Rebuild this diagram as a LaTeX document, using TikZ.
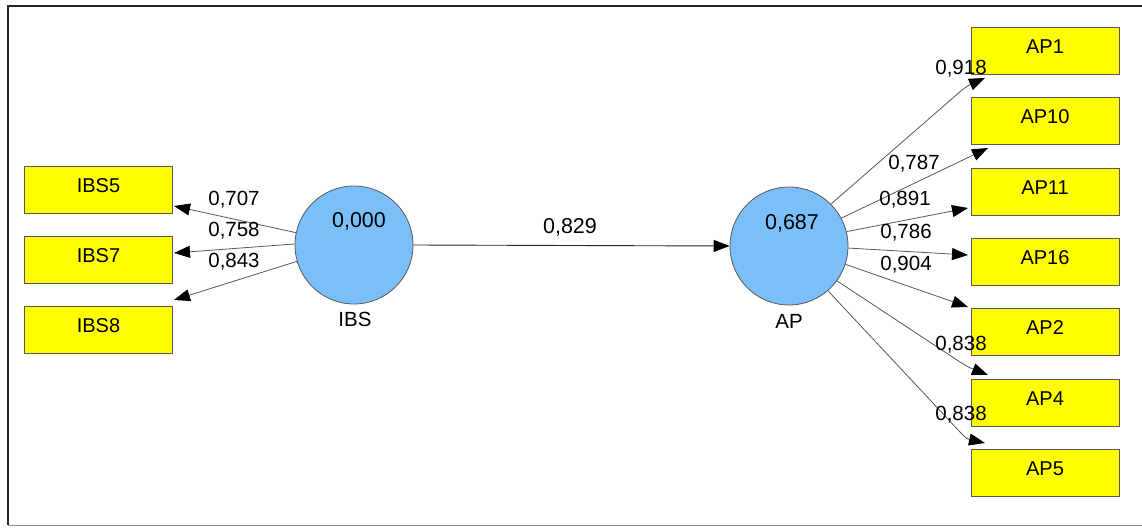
\documentclass[tikz,border=0pt]{standalone}
\usepackage{fontspec}
\setmainfont{Liberation Sans}
\usetikzlibrary{arrows.meta}
\definecolor{boxyellow}{RGB}{255,255,0}
\definecolor{latblue}{RGB}{122,190,250}
\definecolor{edgegray}{RGB}{88,88,88}
\definecolor{framegray}{RGB}{140,140,140}
\begin{document}
\begin{tikzpicture}[x=1pt,y=-1pt,
  ind/.style={draw=edgegray, fill=boxyellow, line width=0.8pt, minimum width=148pt, minimum height=47pt, inner sep=0pt, font=\fontsize{20}{24}\selectfont, text height=14pt, text depth=9pt},
  lat/.style={circle, draw=edgegray, fill=latblue, minimum size=118pt, inner sep=0pt, line width=0.8pt},
  lab/.style={font=\fontsize{20.5}{24}\selectfont, inner sep=0pt, text depth=0pt},
  val/.style={font=\fontsize{21.5}{24}\selectfont, inner sep=0pt, text depth=0pt},
  arr/.style={draw=edgegray, line width=0.8pt, -{Triangle[length=16pt,width=12pt,color=black]}},
  mainarr/.style={draw=black!85, line width=0.9pt, -{Triangle[length=16pt,width=12pt,color=black]}}]
\useasboundingbox (0,0) rectangle (1142,527);
% frame
\draw[line width=1.8pt, black!85] (8,525) -- (8,6) -- (1142,6);
\draw[line width=1pt, framegray] (8,525) -- (1142,525);
% latent variables
\node[lat] (IBS) at (354,245) {};
\node[lat] (AP) at (789,246) {};
% indicators left
\node[ind] (IBS5) at (98.5,190) {IBS5};
\node[ind] (IBS7) at (98.5,260) {IBS7};
\node[ind] (IBS8) at (98.5,330) {IBS8};
% indicators right
\node[ind] (AP1)  at (1045,51)    {AP1};
\node[ind] (AP10) at (1045,121.3) {AP10};
\node[ind] (AP11) at (1045,191.7) {AP11};
\node[ind] (AP16) at (1045,262)   {AP16};
\node[ind] (AP2)  at (1045,332.3) {AP2};
\node[ind] (AP4)  at (1045,402.7) {AP4};
\node[ind] (AP5)  at (1045,473)   {AP5};
% arrow end coordinates
\coordinate (e5) at (174,206);
\coordinate (e7) at (174,253);
\coordinate (e8) at (174,300);
\coordinate (b1) at (962,90);
\coordinate (e1) at (985,78);
\coordinate (e10) at (988,148);
\coordinate (e11) at (968,208);
\coordinate (e16) at (968,255);
\coordinate (e2) at (968,307);
\coordinate (b4) at (960,362);
\coordinate (e4) at (988,375);
\coordinate (b5) at (960,432);
\coordinate (e5r) at (985,443);
% connectors
\draw[arr] (IBS.168) -- (e5);
\draw[arr] (IBS.179) -- (e7);
\draw[arr] (IBS.196) -- (e8);
\draw[mainarr] (IBS.east) -- (AP.west);
\draw[arr] (AP.45) -- (b1) .. controls (969,85) .. (e1);
\draw[arr] (AP.28) -- (e10);
\draw[arr] (AP.14) -- (e11);
\draw[arr] (AP.-2) -- (e16);
\draw[arr] (AP.-18) -- (e2);
\draw[arr] (AP.-36) -- (b4) .. controls (970,368) .. (e4);
\draw[arr] (AP.-49) -- (b5) .. controls (967,439) .. (e5r);
% labels
\node[val] (vIBS) at (359,220) {0,000};
\node[val] (vAP) at (792,222) {0,687};
\node[lab] (nIBS) at (355,319) {IBS};
\node[lab] (nAP) at (789,321) {AP};
\node[val] (lmain) at (570,226) {0,829};
\node[lab] (l5) at (234,198) {0,707};
\node[lab] (l7) at (234,229) {0,758};
\node[lab] (l8) at (234,260) {0,843};
\node[lab] (l1) at (961,67) {0,918};
\node[lab] (l10) at (914,162) {0,787};
\node[lab] (l11) at (905,198) {0,891};
\node[lab] (l16) at (906,231) {0,786};
\node[lab] (l2) at (906,263) {0,904};
\node[lab] (l4) at (961,343) {0,838};
\node[lab] (l5r) at (961,413) {0,838};
\end{tikzpicture}
\end{document}
